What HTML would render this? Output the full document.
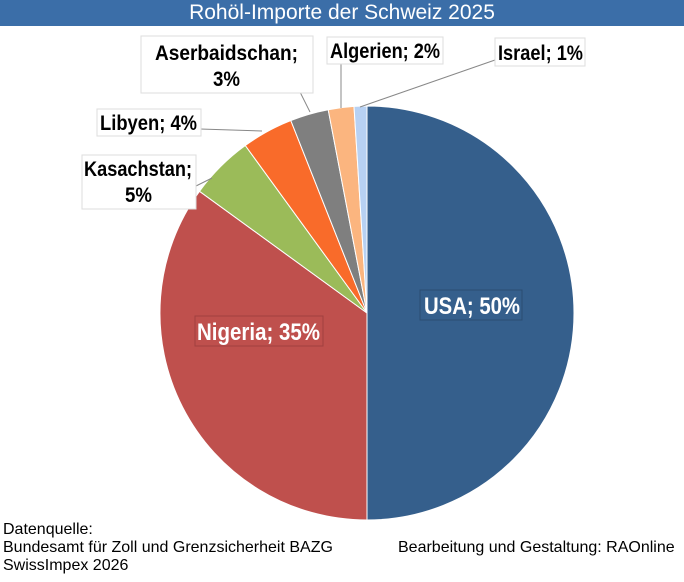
<!DOCTYPE html>
<html><head><style>
body{margin:0;width:684px;height:582px;background:#fff;overflow:hidden;font-family:"Liberation Sans",sans-serif;}
.t{position:absolute;left:0;top:0;width:684px;height:26px;background:#3b6ea8;color:#fff;font-size:21px;text-align:center;line-height:26px;}
.f{position:absolute;font-family:"Liberation Sans",sans-serif;font-size:16px;color:#000;line-height:18px;}
svg text{font-family:"Liberation Sans",sans-serif;font-weight:bold;}
</style></head><body>
<div class="t">Rohöl-Importe der Schweiz 2025</div>
<svg width="684" height="582" style="position:absolute;left:0;top:0">
<g stroke="#fff" stroke-width="1">
<path d="M367,313 L367,106 A207,207 0 0 1 367,520 Z" fill="#355f8c"/>
<path d="M367,313 L367,520 A207,207 0 0 1 199.5,191.3 Z" fill="#bf504d"/>
<path d="M367,313 L199.5,191.3 A207,207 0 0 1 245.3,145.5 Z" fill="#9bbb59"/>
<path d="M367,313 L245.3,145.5 A207,207 0 0 1 290.8,120.5 Z" fill="#f96b2a"/>
<path d="M367,313 L290.8,120.5 A207,207 0 0 1 328.2,109.7 Z" fill="#7f7f7f"/>
<path d="M367,313 L328.2,109.7 A207,207 0 0 1 354,106.4 Z" fill="#fbb57f"/>
<path d="M367,313 L354,106.4 A207,207 0 0 1 367,106 Z" fill="#b7d1f3"/>
</g>
<g stroke="#888" stroke-width="1" fill="none">
<path d="M360,107 L495,60"/>
<path d="M341,108 L341,62"/>
<path d="M310,112 L290,72"/>
<path d="M262,131 L200,129"/>
<path d="M212,178 L196,186"/>
</g>
<g fill="#fff" stroke="#ddd">
<rect x="495" y="38" width="90" height="28"/>
<rect x="327" y="37" width="116" height="27"/>
<rect x="141" y="36" width="172" height="57"/>
<rect x="97" y="109" width="104" height="27"/>
<rect x="82" y="155" width="114" height="54"/>
</g>
<g font-size="21" fill="#000" lengthAdjust="spacingAndGlyphs">
<text x="498" y="60" textLength="85" lengthAdjust="spacingAndGlyphs">Israel; 1%</text>
<text x="330" y="58" textLength="110" lengthAdjust="spacingAndGlyphs">Algerien; 2%</text>
<text x="155" y="60" textLength="143" lengthAdjust="spacingAndGlyphs">Aserbaidschan;</text>
<text x="213" y="86" textLength="27" lengthAdjust="spacingAndGlyphs">3%</text>
<text x="100" y="130" textLength="97" lengthAdjust="spacingAndGlyphs">Libyen; 4%</text>
<text x="84" y="176" textLength="108" lengthAdjust="spacingAndGlyphs">Kasachstan;</text>
<text x="125" y="202" textLength="27" lengthAdjust="spacingAndGlyphs">5%</text>
</g>
<rect x="420" y="290" width="102" height="30" fill="#355f8c" stroke="#2a4c72"/>
<rect x="195" y="316" width="128" height="30" fill="#bf504d" stroke="#a04040"/>
<g font-size="24" fill="#fff">
<text x="424" y="314" textLength="96" lengthAdjust="spacingAndGlyphs">USA; 50%</text>
<text x="197" y="340" textLength="123" lengthAdjust="spacingAndGlyphs">Nigeria; 35%</text>
</g>
</svg>
<div class="f" style="left:3px;top:521px">Datenquelle:<br>Bundesamt für Zoll und Grenzsicherheit BAZG<br>SwissImpex 2026</div>
<div class="f" style="left:398px;top:539px">Bearbeitung und Gestaltung: RAOnline</div>
</body></html>
